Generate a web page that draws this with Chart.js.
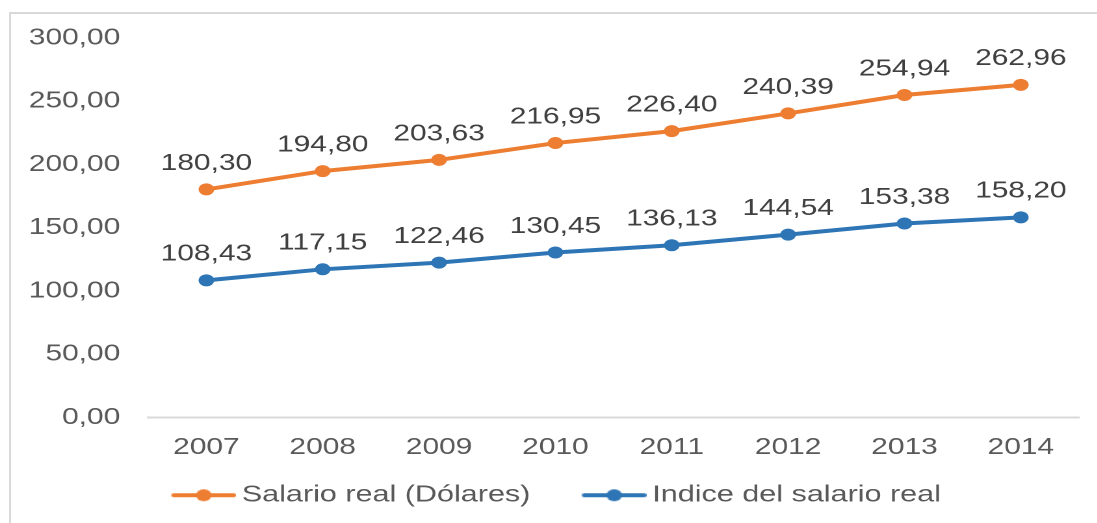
<!DOCTYPE html>
<html>
<head>
<meta charset="utf-8">
<script src="https://cdn.jsdelivr.net/npm/chart.js@4"></script>
<style>
  html, body { margin: 0; padding: 0; background: #fff; overflow: hidden; width: 1097px; height: 523px; }
  #frame { position: absolute; left: 9px; top: 12px; width: 1200px; height: 600px;
           border-top: 2px solid #D9D9D9; border-left: 2px solid #D9D9D9; }
  #wrap { position: absolute; left: 0; top: 0; width: 844px; height: 517px;
          transform: scaleX(1.3); transform-origin: 0 0; }
</style>
</head>
<body>
<div id="frame"></div>
<div id="wrap"><canvas id="c"></canvas></div>
<script>
const categories = ['2007','2008','2009','2010','2011','2012','2013','2014'];
const salarioReal = [180.30, 194.80, 203.63, 216.95, 226.40, 240.39, 254.94, 262.96];
const indiceSalario = [108.43, 117.15, 122.46, 130.45, 136.13, 144.54, 153.38, 158.20];
const seriesNames = ['Salario real (Dólares)', 'Indice del salario real'];
const yTicks = { min: 0, max: 300, step: 50 };

const ORANGE = '#ED7D31';
const BLUE = '#2E75B6';
const FONT = '"Liberation Sans", Arial, sans-serif';

function fmt(v) { return v.toFixed(2).replace('.', ','); }

function legendImage(color) {
  const W = 91, H = 16, m = 41;
  const c = document.createElement('canvas');
  c.width = W; c.height = H;
  const g = c.getContext('2d');
  g.strokeStyle = color; g.lineWidth = 4; g.lineCap = 'round';
  g.beginPath(); g.moveTo(m + 2, H / 2); g.lineTo(m + 48, H / 2); g.stroke();
  g.fillStyle = color;
  g.beginPath(); g.arc(m + 25, H / 2, 6, 0, Math.PI * 2); g.fill();
  return c;
}
const legendImgs = [legendImage(ORANGE), legendImage(BLUE)];

const dataLabels = {
  id: 'dataLabels',
  afterDatasetsDraw(chart) {
    const ctx = chart.ctx;
    ctx.save();
    ctx.font = '23px ' + FONT;
    ctx.fillStyle = '#404040';
    ctx.textAlign = 'center';
    ctx.textBaseline = 'middle';
    chart.data.datasets.forEach((ds, i) => {
      const meta = chart.getDatasetMeta(i);
      meta.data.forEach((pt, j) => {
        ctx.fillText(fmt(ds.data[j]), pt.x, pt.y - 26);
      });
    });
    ctx.restore();
  }
};

const legendShift = {
  id: 'legendShift',
  afterLayout(chart) {
    if (chart.legend) { chart.legend.left -= 15; chart.legend.right -= 15; }
  }
};

new Chart(document.getElementById('c'), {
  type: 'line',
  data: {
    labels: categories,
    datasets: [
      { label: seriesNames[0], data: salarioReal, borderColor: ORANGE, backgroundColor: ORANGE,
        borderWidth: 4, pointRadius: 6, pointHoverRadius: 6, pointBackgroundColor: ORANGE,
        pointBorderWidth: 0, tension: 0, fill: false },
      { label: seriesNames[1], data: indiceSalario, borderColor: BLUE, backgroundColor: BLUE,
        borderWidth: 4, pointRadius: 6, pointHoverRadius: 6, pointBackgroundColor: BLUE,
        pointBorderWidth: 0, tension: 0, fill: false }
    ]
  },
  options: {
    responsive: true,
    maintainAspectRatio: false,
    animation: false,
    devicePixelRatio: 2,
    layout: { padding: { left: 22, right: 14, top: 38, bottom: 0 } },
    scales: {
      x: {
        offset: true,
        grid: { display: false, drawTicks: false },
        border: { display: true, color: '#D9D9D9', width: 2 },
        ticks: { color: '#595959', font: { family: FONT, size: 23, lineHeight: 1 }, padding: 18.5, maxRotation: 0 }
      },
      y: {
        min: yTicks.min, max: yTicks.max,
        grid: { display: false, drawTicks: false },
        border: { display: false },
        ticks: { stepSize: yTicks.step, color: '#595959', font: { family: FONT, size: 23, lineHeight: 1 },
                 padding: 21.5, callback: v => fmt(v) },
        afterFit(scale) { scale.width = 92; }
      }
    },
    plugins: {
      legend: {
        position: 'bottom',
        labels: {
          color: '#595959',
          font: { family: FONT, size: 23.5 },
          usePointStyle: true,
          pointStyleWidth: 76,
          padding: 6,
          generateLabels(chart) {
            const items = Chart.defaults.plugins.legend.labels.generateLabels(chart);
            items.forEach((it, i) => { it.pointStyle = legendImgs[i]; });
            return items;
          }
        }
      },
      tooltip: { enabled: false }
    }
  },
  plugins: [dataLabels, legendShift]
});
</script>
</body>
</html>
